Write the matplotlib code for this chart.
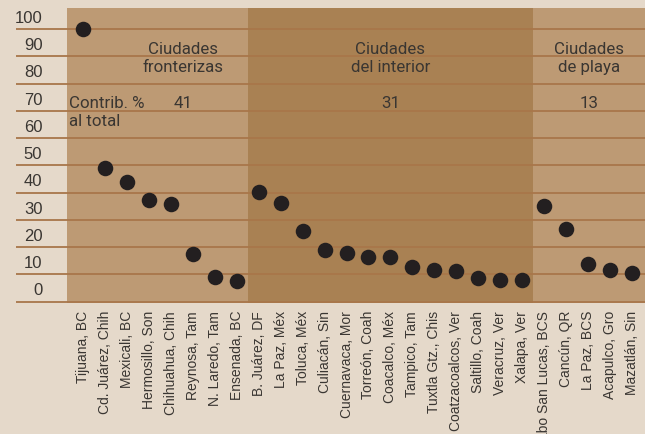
import matplotlib
matplotlib.use('Agg')
import matplotlib.pyplot as plt
import matplotlib.transforms as mtransforms

# city labels and contribution values, grouped by city type
fronterizas = ["Tijuana, BC", "Cd. Juárez, Chih", "Mexicali, BC", "Hermosillo, Son",
               "Chihuahua, Chih", "Reynosa, Tam", "N. Laredo, Tam", "Ensenada, BC"]
fronterizas_val = [100, 48.9, 43.8, 37.3, 35.8, 17.5, 9.2, 7.5]

interior = ["B. Juárez, DF", "La Paz, Méx", "Toluca, Méx", "Culiacán, Sin",
            "Cuernavaca, Mor", "Torreón, Coah", "Coacalco, Méx", "Tampico, Tam",
            "Tuxtla Gtz., Chis", "Coatzacoalcos, Ver", "Saltillo, Coah",
            "Veracruz, Ver", "Xalapa, Ver"]
interior_val = [40.2, 36.3, 25.9, 19.0, 17.9, 16.4, 16.4, 12.7, 11.6, 11.3, 8.7, 8.0, 8.0]

playa = ["Cabo San Lucas, BCS", "Cancún, QR", "La Paz, BCS", "Acapulco, Gro", "Mazatlán, Sin"]
playa_val = [35.1, 26.7, 13.8, 11.6, 10.5]

group_titles = ["Ciudades\nfronterizas", "Ciudades\ndel interior", "Ciudades\nde playa"]
group_totals = ["41", "31", "13"]
yticks = list(range(0, 101, 10))

cities = fronterizas + interior + playa
values = fronterizas_val + interior_val + playa_val

bg = '#e5d9ca'
light = '#bd9a74'
dark = '#a98153'
grid_c = '#a8764a'
txt = '#3a3632'

fig = plt.figure(figsize=(6.45, 4.35), dpi=100, facecolor=bg)
ax = fig.add_axes([16/645, 1 - 304/435, 629/645, 295/435])
ax.set_facecolor(bg)

n1 = len(fronterizas)
n2 = len(interior)
ax.axvspan(-0.73, n1 - 0.5, color=light, lw=0, zorder=0.5)
ax.axvspan(n1 - 0.5, n1 + n2 - 0.5, color=dark, lw=0, zorder=0.5)
ax.axvspan(n1 + n2 - 0.5, 30, color=light, lw=0, zorder=0.5)

x = list(range(len(cities)))
ax.scatter(x, values, s=125, color='#231f20', zorder=3, linewidths=0)

ax.set_xlim(-3.05, 25.59)
ax.set_ylim(-0.5, 107.7)

ax.set_yticks(yticks)
ax.set_yticklabels([str(v) for v in yticks], fontsize=12, color=txt,
                   family='Liberation Sans')
ax.tick_params(axis='y', length=0, pad=-19)
off = mtransforms.ScaledTranslation(0, 3/72, fig.dpi_scale_trans)
for lab in ax.get_yticklabels():
    lab.set_verticalalignment('bottom')
    lab.set_transform(lab.get_transform() + off)
ax.grid(axis='y', color=grid_c, lw=1.3)
ax.grid(axis='x', visible=False)

ax.set_xticks(x)
ax.set_xticklabels(cities, rotation=90, fontsize=10, color=txt,
                   family='Liberation Sans', va='top', ha='center')
ax.tick_params(axis='x', length=0, pad=5)

for s in ax.spines.values():
    s.set_visible(False)

# group annotations
centers = [4.55, n1 + (n2 - 1) / 2, 23.04]
for cx, title, tot in zip(centers, group_titles, group_totals):
    ax.text(cx, 89.7, title, ha='center', va='center', fontsize=12.2,
            color=txt, family='Roboto', linespacing=1.25)
    ax.text(cx, 72.9, tot, ha='center', va='center', fontsize=12.2,
            color=txt, family='Roboto')
ax.text(-0.65, 69.6, "Contrib. %\nal total", ha='left', va='center', fontsize=12.2,
        color=txt, family='Roboto', linespacing=1.25)

plt.savefig('out.png', dpi=100, facecolor=bg)
